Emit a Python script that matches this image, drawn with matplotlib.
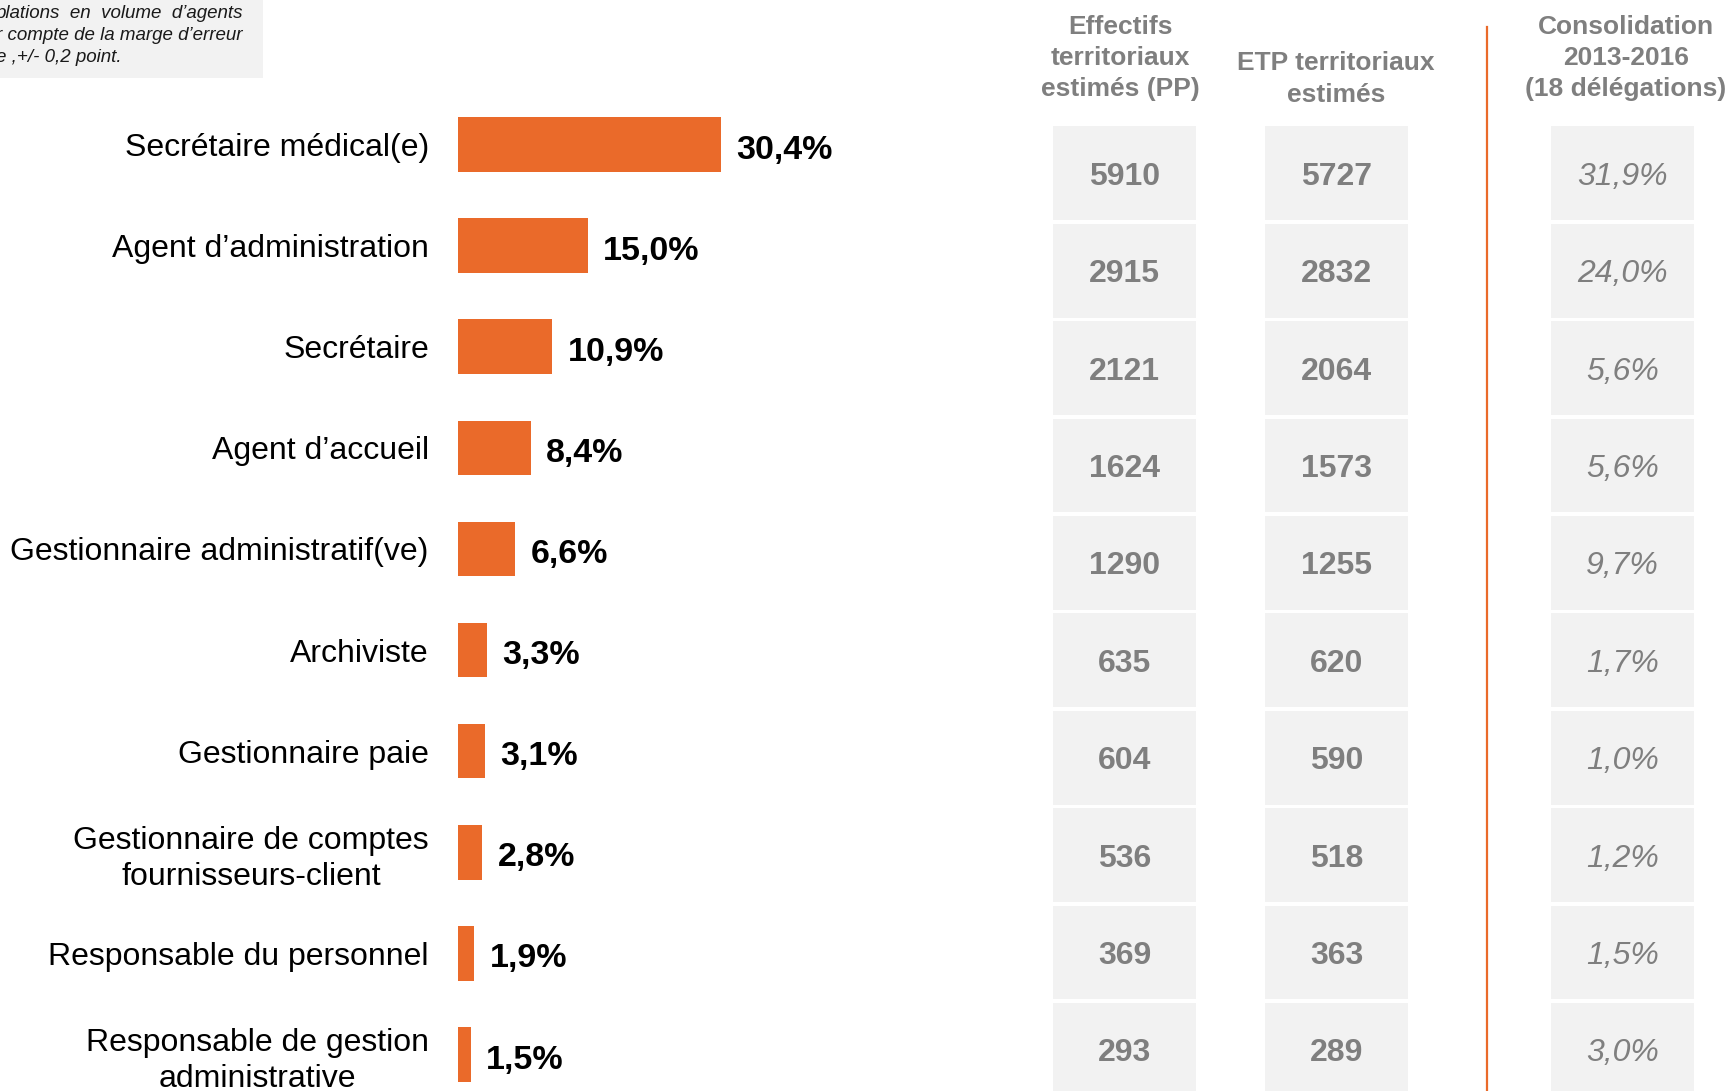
import matplotlib.pyplot as plt
from matplotlib.lines import Line2D
from matplotlib.patches import Rectangle

plt.rcParams['font.family'] = ['Liberation Sans', 'DejaVu Sans']

# Data
metiers = ["Secrétaire médical(e)", "Agent d’administration", "Secrétaire",
           "Agent d’accueil", "Gestionnaire administratif(ve)", "Archiviste",
           "Gestionnaire paie", "Gestionnaire de comptes\nfournisseurs-client",
           "Responsable du personnel", "Responsable de gestion\nadministrative"]
parts = [30.4, 15.0, 10.9, 8.4, 6.6, 3.3, 3.1, 2.8, 1.9, 1.5]
effectifs_pp = [5910, 2915, 2121, 1624, 1290, 635, 604, 536, 369, 293]
etp = [5727, 2832, 2064, 1573, 1255, 620, 590, 518, 363, 289]
consolidation = [31.9, 24.0, 5.6, 5.6, 9.7, 1.7, 1.0, 1.2, 1.5, 3.0]
headers = ["Effectifs\nterritoriaux\nestimés (PP)", "ETP territoriaux\nestimés",
           "Consolidation\n2013-2016\n(18 délégations)"]
note_lines = ["plations  en  volume  d’agents", "r compte de la marge d’erreur",
              "e ,+/- 0,2 point."]

orange = '#EA6A2A'
grey_txt = '#7f7f7f'
cell_bg = '#f2f2f2'

def fr(v):
    return f"{v:.1f}".replace('.', ',') + '%'

W, H = 1731, 1091
fig = plt.figure(figsize=(W / 100, H / 100), dpi=100)

# bar chart (row pitch ~101 px, first row centre ~145 px from top)
top_px = 94
ax = fig.add_axes([458 / W, 0, 560 / W, (H - top_px) / H])
rows = list(range(len(metiers)))
ax.barh(rows, parts, height=0.54, color=orange)
ax.set_xlim(0, 560 / 8.65)
ax.set_ylim((H - top_px) / 101.1 - 0.5, -0.5)
ax.set_yticks(rows, metiers, fontsize=23)
for lab in ax.get_yticklabels():
    lab.set_multialignment('center')
    lab.set_linespacing(1.28)
ax.tick_params(axis='y', length=0, pad=21)
ax.set_xticks([])
for s in ax.spines.values():
    s.set_visible(False)
for r, v in zip(rows, parts):
    ax.annotate(fr(v), (v, r), xytext=(11, -4), textcoords='offset points',
                ha='left', va='center', fontsize=24.5, fontweight='bold')

# table on the right (row pitch ~97 px)
ttop = 124.6
tx = fig.add_axes([0, 0, 1, (H - ttop) / H])
tx.set_xlim(0, W)
tx.set_ylim((H - ttop) / 97.4 - 0.5, -0.5)
tx.axis('off')
col_left = [1053, 1265, 1551]
col_w = 143
columns = [[str(v) for v in effectifs_pp], [str(v) for v in etp],
           [fr(v) for v in consolidation]]
for k, (left, vals) in enumerate(zip(col_left, columns)):
    tx.barh(rows, col_w, left=left, height=0.965, color=cell_bg)
    for r, s in zip(rows, vals):
        if k < 2:
            tx.text(left + col_w / 2, r + 0.035, s, ha='center', va='center',
                    fontsize=23, fontweight='bold', color=grey_txt)
        else:
            tx.text(left + col_w / 2, r + 0.035, s, ha='center', va='center',
                    fontsize=23, style='italic', color=grey_txt)

# column headers
for (hx, hy), txt in zip([(1120, 58), (1336, 79), (1626, 58)], headers):
    fig.text(hx / W, 1 - hy / H, txt, ha='center', va='center', linespacing=1.38,
             fontsize=19, fontweight='bold', color=grey_txt)

# orange divider
fig.add_artist(Line2D([1487 / W, 1487 / W], [0, 1 - 27 / H], color=orange, lw=1.6))

# note box, top left (cut by the page edge as in the source)
fig.add_artist(Rectangle((0, 1 - 78 / H), 263 / W, 78 / H, transform=fig.transFigure,
                         facecolor=cell_bg, edgecolor='none', zorder=0))
note_kw = dict(fontsize=13.5, style='italic', va='center', color='#1a1a1a')
fig.text(243 / W, 1 - 13 / H, note_lines[0], ha='right', **note_kw)
fig.text(243 / W, 1 - 35 / H, note_lines[1], ha='right', **note_kw)
fig.text(-4 / W, 1 - 58 / H, note_lines[2], ha='left', **note_kw)

fig.savefig('out.png', dpi=100)
